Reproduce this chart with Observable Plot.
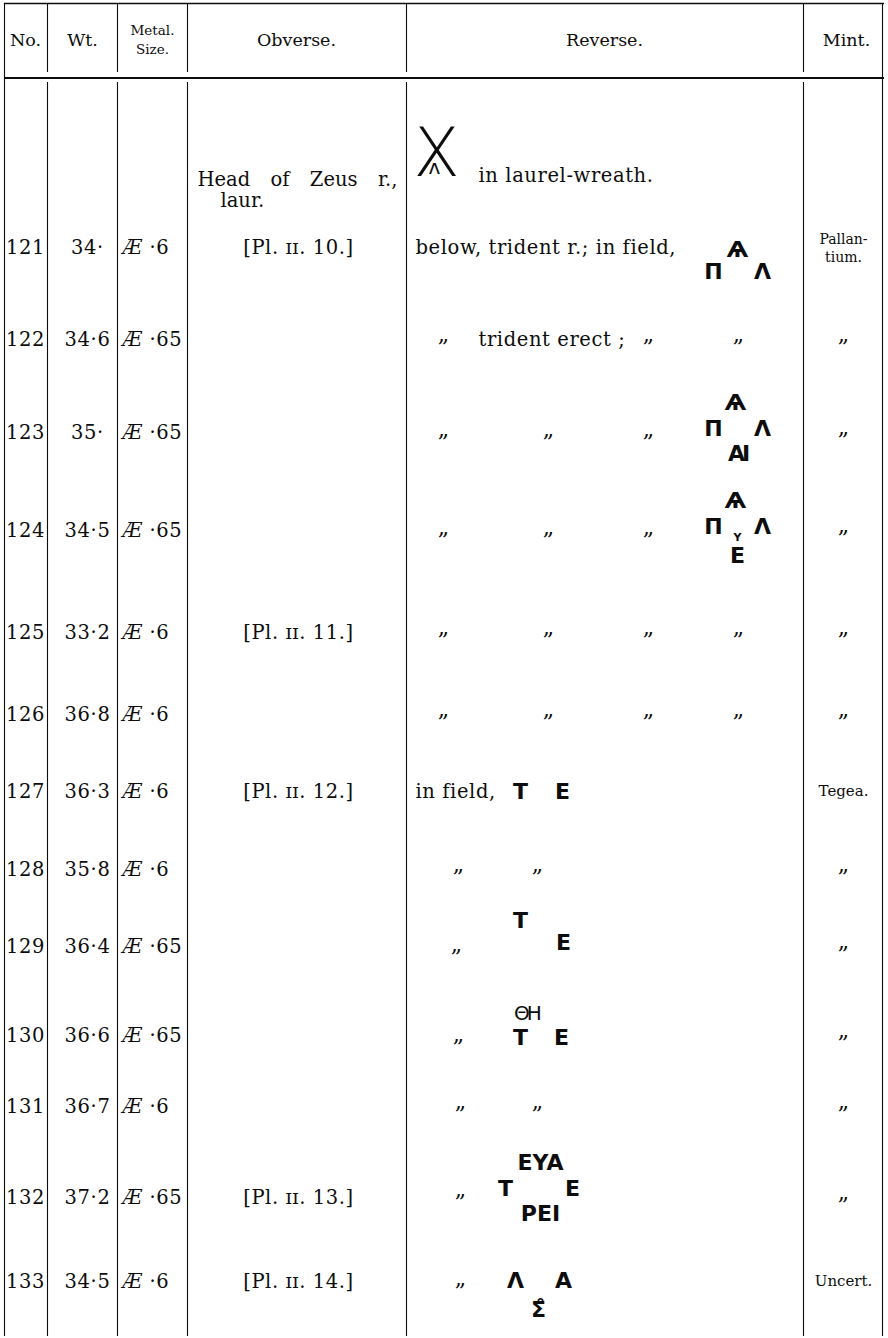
<!DOCTYPE html>
<html><head><meta charset="utf-8">
<script src="https://cdn.jsdelivr.net/npm/d3@7"></script>
<script src="https://cdn.jsdelivr.net/npm/@observablehq/plot@0.6"></script>
<style>
  html, body { margin: 0; padding: 0; background: #fff; }
  #chart svg { display: block; }
</style>
</head><body><div id="chart"></div>
<script>
// ---------------- data ----------------
const headers = ["No.", "Wt.", "Metal.", "Size.", "Obverse.", "Reverse.", "Mint."];
const nos = [121, 122, 123, 124, 125, 126, 127, 128, 129, 130, 131, 132, 133];
const weights = [34.0, 34.6, 35.0, 34.5, 33.2, 36.8, 36.3, 35.8, 36.4, 36.6, 36.7, 37.2, 34.5];
const metals = ["Æ", "Æ", "Æ", "Æ", "Æ", "Æ", "Æ", "Æ", "Æ", "Æ", "Æ", "Æ", "Æ"];
const sizes = [0.6, 0.65, 0.65, 0.65, 0.6, 0.6, 0.6, 0.6, 0.65, 0.65, 0.6, 0.65, 0.6];
const obverseType = ["Head of Zeus r.,", "laur."];
const plates = ["[Pl. ɪɪ. 10.]", "", "", "", "[Pl. ɪɪ. 11.]", "", "[Pl. ɪɪ. 12.]", "", "", "", "", "[Pl. ɪɪ. 13.]", "[Pl. ɪɪ. 14.]"];
const reverseTypeMonogram = ["X", "ʌ"];
const reverseTypeText = "in laurel-wreath.";
const D = "„"; // ditto
const reverseTokens = [
  ["below, trident r.; in field,", "Ѧ", "Π", "Λ"],
  [D, "trident erect ;", D, D],
  [D, D, D, "Ѧ", "Π", "Λ", "AI"],
  [D, D, D, "Ѧ", "Π", "Λ", "Y", "E"],
  [D, D, D, D],
  [D, D, D, D],
  ["in field,", "T", "E"],
  [D, D],
  [D, "T", "E"],
  [D, "ΘH", "T", "E"],
  [D, D],
  [D, "EYA", "T", "E", "PEI"],
  [D, "Λ", "A", "Σ̊"]
];
const mints = ["Pallan-\ntium.", D, D, D, D, D, "Tegea.", D, D, D, D, D, "Uncert."];

// ---------------- layout ----------------
const W = 888, H = 1338;
const colEdges = [4, 47, 117, 187, 406, 803, 882];
const headerTop = 3, headerRuleY = 77.5, headerLineEnd = 72, bodyTop = 82, bodyBottom = 1336;
const headerY = 40;
const typeY = [179, 200];
const rowY = [247, 339, 432, 530, 632, 714, 791, 869, 946, 1035, 1106, 1197, 1281];
const headerX = [25, 82, 152, 152, 296, 604, 846];
const headerDY = [0, 0, -10, 9, 0, 0, 0];
const colX = {no: 25, wt: 87, metal: 122, size: 147, obverse: 298, mint: 843};
const obverseTypeX = [197, 220];
const reverseTypeX = {mono: 436, text: 478, textY: 175};
// [x, dy, kind] per reverse token
const reverseSlots = [
  [[415, 0, "serif"], [737, 2, "mono"], [713, 24, "mono"], [762, 24, "mono"]],
  [[443, 0, "ditto"], [478, 0, "serif"], [648, 0, "ditto"], [738, 0, "ditto"]],
  [[443, 2, "ditto"], [548, 2, "ditto"], [648, 2, "ditto"], [735, -30, "mono"], [713, -4, "mono"], [762, -4, "mono"], [737, 21, "monoTight"]],
  [[443, 2, "ditto"], [548, 2, "ditto"], [648, 2, "ditto"], [735, -30, "mono"], [713, -4, "mono"], [762, -4, "mono"], [737, 7, "monoSmall"], [737, 25, "mono"]],
  [[443, 0, "ditto"], [548, 0, "ditto"], [648, 0, "ditto"], [738, 0, "ditto"]],
  [[443, 0, "ditto"], [548, 0, "ditto"], [648, 0, "ditto"], [738, 0, "ditto"]],
  [[415, 0, "serif"], [520, 0, "mono"], [562, 0, "mono"]],
  [[458, 0, "ditto"], [537, 0, "ditto"]],
  [[456, 3, "ditto"], [520, -26, "mono"], [563, -4, "mono"]],
  [[458, 4, "ditto"], [526, -22, "monoThin"], [520, 2, "mono"], [561, 2, "mono"]],
  [[460, 0, "ditto"], [537, 0, "ditto"]],
  [[460, -3, "ditto"], [540, -35, "mono"], [505, -9, "mono"], [572, -9, "mono"], [540, 16, "mono"]],
  [[460, 2, "ditto"], [515, -1, "mono"], [563, -1, "mono"], [538, 28, "mono"]]
];

// ---------------- build tables ----------------
const fmtWt = w => Number.isInteger(w) ? `${w}·` : String(w).replace(".", "·");
const fmtSize = s => "·" + String(s).slice(2);
const rows = nos.map((n, i) => ({
  no: String(n), wt: fmtWt(weights[i]), metal: metals[i], size: fmtSize(sizes[i]),
  plate: plates[i], mint: mints[i], y: rowY[i]
}));
const tokens = reverseTokens.flatMap((r, i) => r.map((text, j) => ({
  text, x: reverseSlots[i][j][0], y: rowY[i] + reverseSlots[i][j][1], kind: reverseSlots[i][j][2]
})));
const headerRows = headers.map((t, i) => ({text: t, x: headerX[i], y: headerY + headerDY[i], small: t === "Metal." || t === "Size."}));

const vRules = [];
colEdges.forEach((x, i) => {
  const outer = i === 0 || i === colEdges.length - 1;
  if (outer) vRules.push({x, y1: headerTop, y2: bodyBottom});
  else { vRules.push({x, y1: headerTop, y2: headerLineEnd}); vRules.push({x, y1: bodyTop, y2: bodyBottom}); }
});
const hRules = [
  {y: headerTop, x1: colEdges[0], x2: colEdges[colEdges.length - 1] + 2, w: 1.5},
  {y: headerRuleY, x1: colEdges[0], x2: colEdges[colEdges.length - 1] + 2, w: 2.2}
];

const SERIF = "DejaVu Serif, serif";
const SANS = "DejaVu Sans, sans-serif";
const INK = "#0d0d0d";
const BODY = 19.5;
const byKind = k => tokens.filter(d => d.kind === k);
const serifOpts = {fontSize: BODY, fontFamily: SERIF, fill: INK, ariaDescription: "serif"};

const plot = Plot.plot({
  width: W, height: H,
  marginTop: 0, marginRight: 0, marginBottom: 0, marginLeft: 0,
  x: {type: "identity", axis: null},
  y: {type: "identity", axis: null},
  style: {background: "#fff", color: INK},
  marks: [
    Plot.ruleX(vRules, {x: "x", y1: "y1", y2: "y2", stroke: INK, strokeWidth: 1.1}),
    Plot.ruleY(hRules, {y: "y", x1: "x1", x2: "x2", stroke: INK, strokeWidth: "w"}),
    // header
    Plot.text(headerRows.filter(d => !d.small), {x: "x", y: "y", text: "text", fontSize: 17.5, fontFamily: SERIF, fill: INK}),
    Plot.text(headerRows.filter(d => d.small), {x: "x", y: "y", text: "text", fontSize: 13.5, fontFamily: SERIF, fill: INK}),
    // left columns
    Plot.text(rows, {x: () => colX.no, y: "y", text: "no", ...serifOpts}),
    Plot.text(rows, {x: () => colX.wt, y: "y", text: "wt", ...serifOpts}),
    Plot.text(rows, {x: () => colX.metal, y: "y", text: "metal", textAnchor: "start", fontStyle: "italic", ...serifOpts}),
    Plot.text(rows, {x: () => colX.size + 2, y: "y", text: "size", textAnchor: "start", ...serifOpts}),
    Plot.text(rows.filter(d => d.plate), {x: () => colX.obverse, y: "y", text: "plate", ...serifOpts}),
    // obverse type
    Plot.text(obverseType, {x: (d, i) => obverseTypeX[i], y: (d, i) => typeY[i], text: d => d, textAnchor: "start", fontSize: BODY, fontFamily: SERIF, fill: INK, ariaDescription: "justify"}),
    // reverse type
    Plot.text([reverseTypeMonogram[0]], {x: () => reverseTypeX.mono, y: () => 154, text: d => d, fontSize: 68, fontWeight: 200, fontFamily: SANS, fill: INK}),
    Plot.text([reverseTypeMonogram[1]], {x: () => reverseTypeX.mono - 2, y: () => 167, text: d => d, fontSize: 20, fontFamily: SANS, fill: INK}),
    Plot.text([reverseTypeText], {x: () => reverseTypeX.text, y: () => reverseTypeX.textY, text: d => d, textAnchor: "start", ...serifOpts}),
    // reverse tokens
    Plot.text(byKind("serif"), {x: "x", y: "y", text: "text", textAnchor: "start", ...serifOpts}),
    Plot.text(byKind("ditto"), {x: "x", y: "y", text: "text", dy: -5, fontSize: 22, fontFamily: SERIF, fill: INK}),
    Plot.text(byKind("mono"), {x: "x", y: "y", text: "text", fontSize: 22, fontWeight: "bold", fontFamily: SANS, fill: INK}),
    Plot.text(byKind("monoTight"), {x: "x", y: "y", text: "text", fontSize: 22, fontWeight: "bold", fontFamily: SANS, fill: INK, ariaDescription: "tight"}),
    Plot.text(byKind("monoSmall"), {x: "x", y: "y", text: "text", fontSize: 11, fontWeight: "bold", fontFamily: SANS, fill: INK}),
    Plot.text(byKind("monoThin"), {x: "x", y: "y", text: "text", fontSize: 20, fontFamily: SANS, fill: INK, ariaDescription: "tight"}),
    // mint
    Plot.text(rows.filter(d => d.mint === "Pallan-\ntium."), {x: () => colX.mint, y: "y", text: "mint", fontSize: 14, lineHeight: 1.25, fontFamily: SERIF, fill: INK}),
    Plot.text(rows.filter(d => d.mint !== D && d.mint !== "Pallan-\ntium."), {x: () => colX.mint, y: "y", text: "mint", fontSize: 15, fontFamily: SERIF, fill: INK}),
    Plot.text(rows.filter(d => d.mint === D), {x: () => colX.mint, y: "y", text: "mint", dy: -5, fontSize: 22, fontFamily: SERIF, fill: INK})
  ]
});
document.getElementById("chart").append(plot);

// body text is set slightly open, like the printed page
plot.querySelectorAll('g[aria-description="serif"] text').forEach(t => t.style.letterSpacing = "0.6px");
// justify the obverse type line across its column; tighten ligature monograms
const justify = plot.querySelectorAll('g[aria-description="justify"] text');
if (justify.length) {
  const first = justify[0];
  const natural = first.getComputedTextLength();
  const target = colEdges[4] - 9 - obverseTypeX[0];
  const gaps = (first.textContent.match(/ /g) || []).length;
  if (gaps) first.style.wordSpacing = ((target - natural) / gaps) + "px";
}
plot.querySelectorAll('g[aria-description="tight"] text').forEach(t => t.style.letterSpacing = "-3px");
</script>
</body></html>
